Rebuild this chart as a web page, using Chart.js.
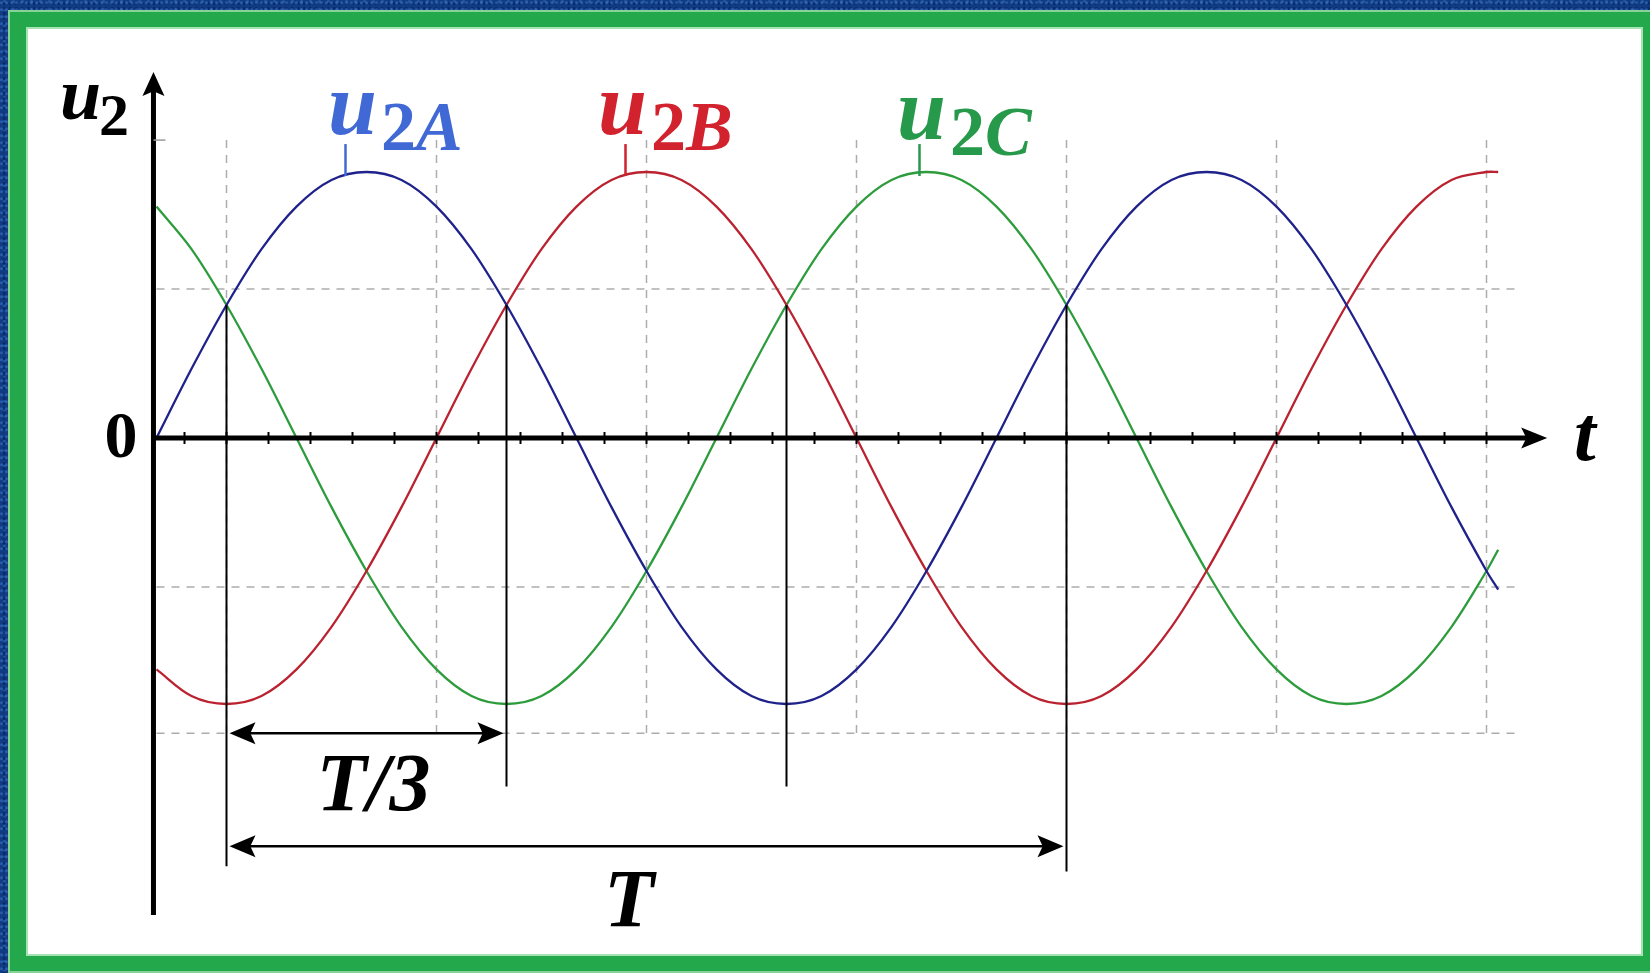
<!DOCTYPE html>
<html>
<head>
<meta charset="utf-8">
<script src="https://cdn.jsdelivr.net/npm/chart.js@4.4.1/dist/chart.umd.min.js"></script>
<style>
  html, body { margin: 0; padding: 0; width: 1650px; height: 973px; overflow: hidden; }
  body {
    background-color: #103c84;
    background-image:
      radial-gradient(circle at 30% 40%, rgba(70,130,215,0.45) 0 1px, transparent 2px),
      radial-gradient(circle at 70% 70%, rgba(5,30,90,0.6) 0 1px, transparent 2px),
      radial-gradient(circle at 50% 20%, rgba(90,150,230,0.3) 0 1px, transparent 2px);
    background-size: 5px 7px, 6px 5px, 9px 8px;
  }
  #frame {
    position: absolute; left: 9px; top: 11px; width: 1645px; height: 961px;
    box-sizing: border-box; background: #fff;
    border-style: solid; border-color: #23a84b;
    border-width: 16px 11px 16px 17px;
    box-shadow: inset 0 0 0 2px #a6e3b2;
    outline: 2px solid #86d398; outline-offset: -1px;
  }
  #chart { position: absolute; left: 0; top: 0; }
</style>
</head>
<body>
<div id="frame"></div>
<canvas id="chart" width="1650" height="973"></canvas>
<script>
// phase angle in degrees (one period T = 360)
const angles = [0,15,30,45,60,75,90,105,120,135,150,165,180,195,210,225,240,255,270,285,
  300,315,330,345,360,375,390,405,420,435,450,465,480,495,510,525,540,555,570,575];

const u2A = [0,0.26,0.5,0.71,0.87,0.97,1,0.97,0.87,0.71,0.5,0.26,0,-0.26,-0.5,-0.71,-0.87,-0.97,-1,-0.97,
  -0.87,-0.71,-0.5,-0.26,0,0.26,0.5,0.71,0.87,0.97,1,0.97,0.87,0.71,0.5,0.26,0,-0.26,-0.5,-0.57];
const u2B = [-0.87,-0.97,-1,-0.97,-0.87,-0.71,-0.5,-0.26,0,0.26,0.5,0.71,0.87,0.97,1,0.97,0.87,0.71,0.5,0.26,
  0,-0.26,-0.5,-0.71,-0.87,-0.97,-1,-0.97,-0.87,-0.71,-0.5,-0.26,0,0.26,0.5,0.71,0.87,0.97,1,1];
const u2C = [0.87,0.71,0.5,0.26,0,-0.26,-0.5,-0.71,-0.87,-0.97,-1,-0.97,-0.87,-0.71,-0.5,-0.26,0,0.26,0.5,0.71,
  0.87,0.97,1,0.97,0.87,0.71,0.5,0.26,0,-0.26,-0.5,-0.71,-0.87,-0.97,-1,-0.97,-0.87,-0.71,-0.5,-0.42];

const gridX = [30,120,210,300,390,480,570];
const gridY = [0.56,-0.56,-1.11];
const tickX = [12,30,48,66,84,102,120,138,156,174,192,210,228,246,264,282,300,318,336,354,
  372,390,408,426,444,462,480,498,516,534,552,570];

// marker lines: where the phases cross, and the T/3 and T spans
const markers = [
  { a: 30, top: 0.5, bottom: -1.61 },
  { a: 150, top: 0.5, bottom: -1.31 },
  { a: 270, top: 0.5, bottom: -1.31 },
  { a: 390, top: 0.5, bottom: -1.63 }
];
const spans = [
  { from: 30, to: 150, at: -1.11, text: "T/3", textAt: 93, textY: -1.4 },
  { from: 30, to: 390, at: -1.535, text: "T", textAt: 202.5, textY: -1.835 }
];

const series = [
  { name: "2A", values: u2A, line: "#20228c", text: "#4169d6", tickAt: 81, labelAt: 73.5, labelY: 1.143 },
  { name: "2B", values: u2B, line: "#bb2230", text: "#d2222e", tickAt: 201, labelAt: 189.2, labelY: 1.143 },
  { name: "2C", values: u2C, line: "#2d9c3c", text: "#27994a", tickAt: 327, labelAt: 317.4, labelY: 1.124 }
];

const SERIF = '"Liberation Serif", "Times New Roman", serif';

function arrowHead(ctx, x, y, dx, dy, len, half) {
  // tip at (x,y), pointing along (dx,dy)
  const px = -dy, py = dx;
  ctx.beginPath();
  ctx.moveTo(x, y);
  ctx.lineTo(x - dx * len + px * half, y - dy * len + py * half);
  ctx.lineTo(x - dx * len * 0.8, y - dy * len * 0.8);
  ctx.lineTo(x - dx * len - px * half, y - dy * len - py * half);
  ctx.closePath();
  ctx.fill();
}

const drawing = {
  id: "drawing",
  beforeDatasetsDraw(chart) {
    const ctx = chart.ctx, xs = chart.scales.x, ys = chart.scales.y;
    ctx.save();
    ctx.strokeStyle = "#adadad";
    ctx.lineWidth = 1.5;
    ctx.setLineDash([8, 7]);
    gridX.forEach(a => {
      ctx.beginPath();
      ctx.moveTo(xs.getPixelForValue(a), ys.getPixelForValue(1.12));
      ctx.lineTo(xs.getPixelForValue(a), ys.getPixelForValue(-1.11));
      ctx.stroke();
    });
    gridY.forEach(v => {
      ctx.beginPath();
      ctx.moveTo(xs.getPixelForValue(0), ys.getPixelForValue(v));
      ctx.lineTo(xs.getPixelForValue(583), ys.getPixelForValue(v));
      ctx.stroke();
    });
    ctx.restore();
  },
  afterDatasetsDraw(chart) {
    const ctx = chart.ctx, xs = chart.scales.x, ys = chart.scales.y;
    const X = v => xs.getPixelForValue(v), Y = v => ys.getPixelForValue(v);
    ctx.save();
    ctx.fillStyle = "#000";
    ctx.strokeStyle = "#000";

    // marker lines
    ctx.lineWidth = 2;
    markers.forEach(m => {
      ctx.beginPath();
      ctx.moveTo(X(m.a), Y(m.top));
      ctx.lineTo(X(m.a), Y(m.bottom));
      ctx.stroke();
    });

    // spans with arrows
    spans.forEach(s => {
      const y = Y(s.at), x1 = X(s.from) + 3, x2 = X(s.to) - 3;
      ctx.lineWidth = 2.5;
      ctx.beginPath();
      ctx.moveTo(x1 + 10, y);
      ctx.lineTo(x2 - 10, y);
      ctx.stroke();
      arrowHead(ctx, x1, y, -1, 0, 26, 11);
      arrowHead(ctx, x2, y, 1, 0, 26, 11);
      ctx.font = "italic bold 82px " + SERIF;
      ctx.textAlign = "center";
      ctx.textBaseline = "alphabetic";
      ctx.fillText(s.text, X(s.textAt), Y(s.textY));
    });

    // axes
    const axisX = X(-1.3), axisY = Y(0);
    ctx.lineWidth = 5;
    ctx.beginPath();
    ctx.moveTo(axisX, Y(-1.793));
    ctx.lineTo(axisX, Y(1.376) + 18);
    ctx.stroke();
    arrowHead(ctx, axisX, Y(1.376), 0, -1, 24, 11);
    ctx.beginPath();
    ctx.moveTo(axisX, axisY);
    ctx.lineTo(X(596) - 20, axisY);
    ctx.stroke();
    arrowHead(ctx, X(596), axisY, 1, 0, 26, 10.5);

    // small ticks on the time axis
    ctx.lineWidth = 2;
    tickX.forEach(a => {
      ctx.beginPath();
      ctx.moveTo(X(a), axisY - 6);
      ctx.lineTo(X(a), axisY + 6);
      ctx.stroke();
    });
    ctx.strokeStyle = "#9a9a9a";
    ctx.lineWidth = 1.5;
    ctx.beginPath();
    ctx.moveTo(axisX, Y(1.12));
    ctx.lineTo(axisX + 12, Y(1.12));
    ctx.stroke();

    // axis labels
    ctx.fillStyle = "#000";
    ctx.textAlign = "left";
    ctx.font = "italic bold 74px " + SERIF;
    ctx.fillText("u", X(-41.4), Y(1.2));
    ctx.font = "bold 60px " + SERIF;
    ctx.fillText("2", X(-24.6), Y(1.139));
    ctx.font = "bold 66px " + SERIF;
    ctx.textAlign = "center";
    ctx.fillText("0", X(-15.2), Y(-0.071));
    ctx.textAlign = "left";
    ctx.font = "italic bold 78px " + SERIF;
    ctx.fillText("t", X(607.5), Y(-0.083));

    // series labels with their leader ticks
    series.forEach(s => {
      ctx.strokeStyle = s.text;
      ctx.lineWidth = 2.5;
      ctx.beginPath();
      ctx.moveTo(X(s.tickAt), Y(0.985));
      ctx.lineTo(X(s.tickAt), Y(1.105));
      ctx.stroke();
      ctx.fillStyle = s.text;
      ctx.font = "italic bold 88px " + SERIF;
      const ux = X(s.labelAt), uy = Y(s.labelY);
      ctx.fillText("u", ux, uy);
      const w = ctx.measureText("u").width;
      ctx.font = "bold 70px " + SERIF;
      ctx.fillText("2", ux + w + 4, uy + 16);
      const w2 = ctx.measureText("2").width;
      ctx.font = "italic bold 70px " + SERIF;
      ctx.fillText(s.name.slice(1), ux + w + 4 + w2, uy + 16);
    });
    ctx.restore();
  }
};

new Chart(document.getElementById("chart"), {
  type: "line",
  data: {
    datasets: series.map(s => ({
      label: "u" + s.name,
      data: angles.map((a, i) => ({ x: a, y: s.values[i] })),
      borderColor: s.line,
      borderWidth: 2.3,
      pointRadius: 0,
      fill: false,
      tension: 0.33
    }))
  },
  options: {
    responsive: false,
    animation: false,
    devicePixelRatio: 1,
    layout: { padding: 0 },
    plugins: { legend: { display: false }, tooltip: { enabled: false } },
    scales: {
      x: { type: "linear", min: -67.07, max: 640.07, display: false },
      y: { type: "linear", min: -2.0113, max: 1.6466, display: false }
    }
  },
  plugins: [drawing]
});
</script>
</body>
</html>
